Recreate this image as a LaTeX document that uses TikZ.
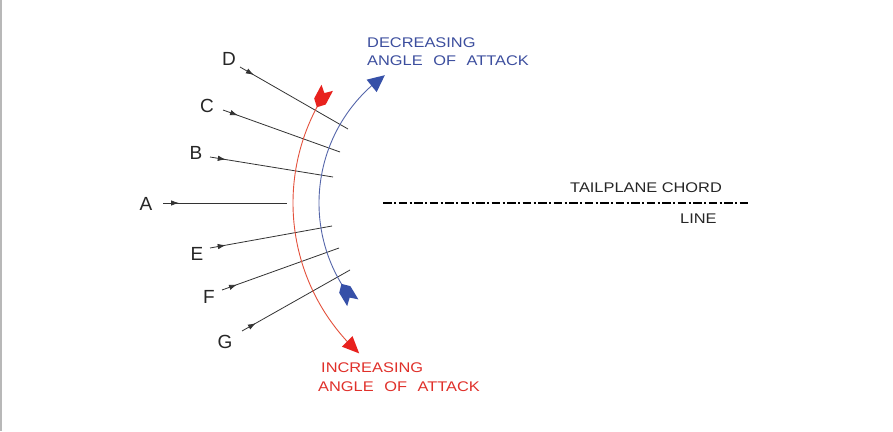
\documentclass[tikz,border=0pt]{standalone}
\usepackage{fontspec}
\setmainfont{Liberation Sans}
\newfontfamily\widefont[FakeStretch=1.17]{Liberation Sans}
\usetikzlibrary{arrows.meta,decorations.markings}
\definecolor{redA}{HTML}{E8211D}
\definecolor{redL}{HTML}{E4513C}
\definecolor{redT}{HTML}{E0302A}
\definecolor{blueA}{HTML}{3650A8}
\definecolor{blueL}{HTML}{5566AA}
\definecolor{blueT}{HTML}{3C4E9E}
\definecolor{linec}{HTML}{333333}
\begin{document}
\begin{tikzpicture}[x=1pt,y=1pt,
  ray/.style={draw=linec, line width=0.8pt, postaction={decorate},
    decoration={markings, mark=at position 16pt with {\arrow{Latex[length=8pt,width=5.5pt]}}}},
  letter/.style={inner sep=0pt, text=black!85, font=\fontsize{19}{22}\selectfont},
  captxt/.style={inner sep=0pt, anchor=base west, font=\widefont\fontsize{14}{16}\selectfont},
  redarc/.style={draw=redL, line width=0.9pt},
  bluearc/.style={draw=blueL, line width=0.9pt},
  chord/.style={draw=black, line width=1.8pt, dash pattern=on 8.5pt off 2.5pt on 2pt off 2.5pt}
]
\useasboundingbox (0,0) rectangle (893,-431);
\fill[white] (0,0) rectangle (893,-431);
\draw[black!28, line width=1.5pt] (0.75,0) -- (0.75,-431);

% labels
\node[letter] (D) at (229,-59) {D};
\node[letter] (C) at (207,-106) {C};
\node[letter] (B) at (196,-153) {B};
\node[letter] (A) at (146,-204) {A};
\node[letter] (E) at (197,-254) {E};
\node[letter] (F) at (209,-297) {F};
\node[letter] (G) at (225,-342) {G};

% ray end points
\coordinate (Ds) at (240,-67);  \coordinate (De) at (348,-129);
\coordinate (Cs) at (223,-110); \coordinate (Ce) at (340,-152);
\coordinate (Bs) at (210,-157); \coordinate (Be) at (333,-177);
\coordinate (As) at (163,-203); \coordinate (Ae) at (287,-203);
\coordinate (Es) at (210,-248); \coordinate (Ee) at (332,-226);
\coordinate (Fs) at (222,-290); \coordinate (Fe) at (339,-248);
\coordinate (Gs) at (242,-331); \coordinate (Ge) at (350,-270);

\foreach \r in {D,C,B,A,E,F,G} { \path[ray] (\r s) -- (\r e); }

% arcs
\coordinate (rc) at (497,-203);
\coordinate (bc) at (476,-203);
\draw[redarc] ([shift={(151:204)}]rc) arc[start angle=151, end angle=223, radius=204];
\draw[bluearc] ([shift={(212:157)}]bc) arc[start angle=212, end angle=130, radius=157];

% arrowheads at the arc ends
\coordinate (rt) at ([shift={(227.5:204)}]rc);
\coordinate (bt) at ([shift={(125.5:157)}]bc);
\fill[redA, shift={(rt)}, rotate=315] (0,0) -- (-17,7.5) -- (-17,-7.5) -- cycle;
\fill[blueA, shift={(bt)}, rotate=39] (0,0) -- (-17,8) -- (-17,-8) -- cycle;

% fletchings
\coordinate (rf) at ([shift={(152:204)}]rc);
\coordinate (bf) at ([shift={(211:157)}]bc);
\fill[redA, shift={(rf)}, rotate=242] (0,0) -- (-6.5,6.5) -- (-22,6.5) -- (-16,0) -- (-22,-6.5) -- (-6.5,-6.5) -- cycle;
\fill[blueA, shift={(bf)}, rotate=121] (0,0) -- (-6.5,6.5) -- (-22,6.5) -- (-16,0) -- (-22,-6.5) -- (-6.5,-6.5) -- cycle;

% captions
\node[captxt, text=blueT] (dec1) at (367,-47) {DECREASING};
\node[captxt, text=blueT] (dec2) at (367,-65) {ANGLE\hspace{6pt} OF\hspace{6pt} ATTACK};
\node[captxt, text=redT] (inc1) at (321,-372) {INCREASING};
\node[captxt, text=redT] (inc2) at (318,-391) {ANGLE\hspace{6pt} OF\hspace{6pt} ATTACK};

% chord line
\coordinate (ch1) at (383,-203);
\coordinate (ch2) at (750,-203);
\draw[chord] (ch1) -- (ch2);
\node[captxt, text=black!85] (tc) at (570,-192) {TAILPLANE CHORD};
\node[captxt, text=black!85] (ln) at (680,-223) {LINE};
\end{tikzpicture}
\end{document}
